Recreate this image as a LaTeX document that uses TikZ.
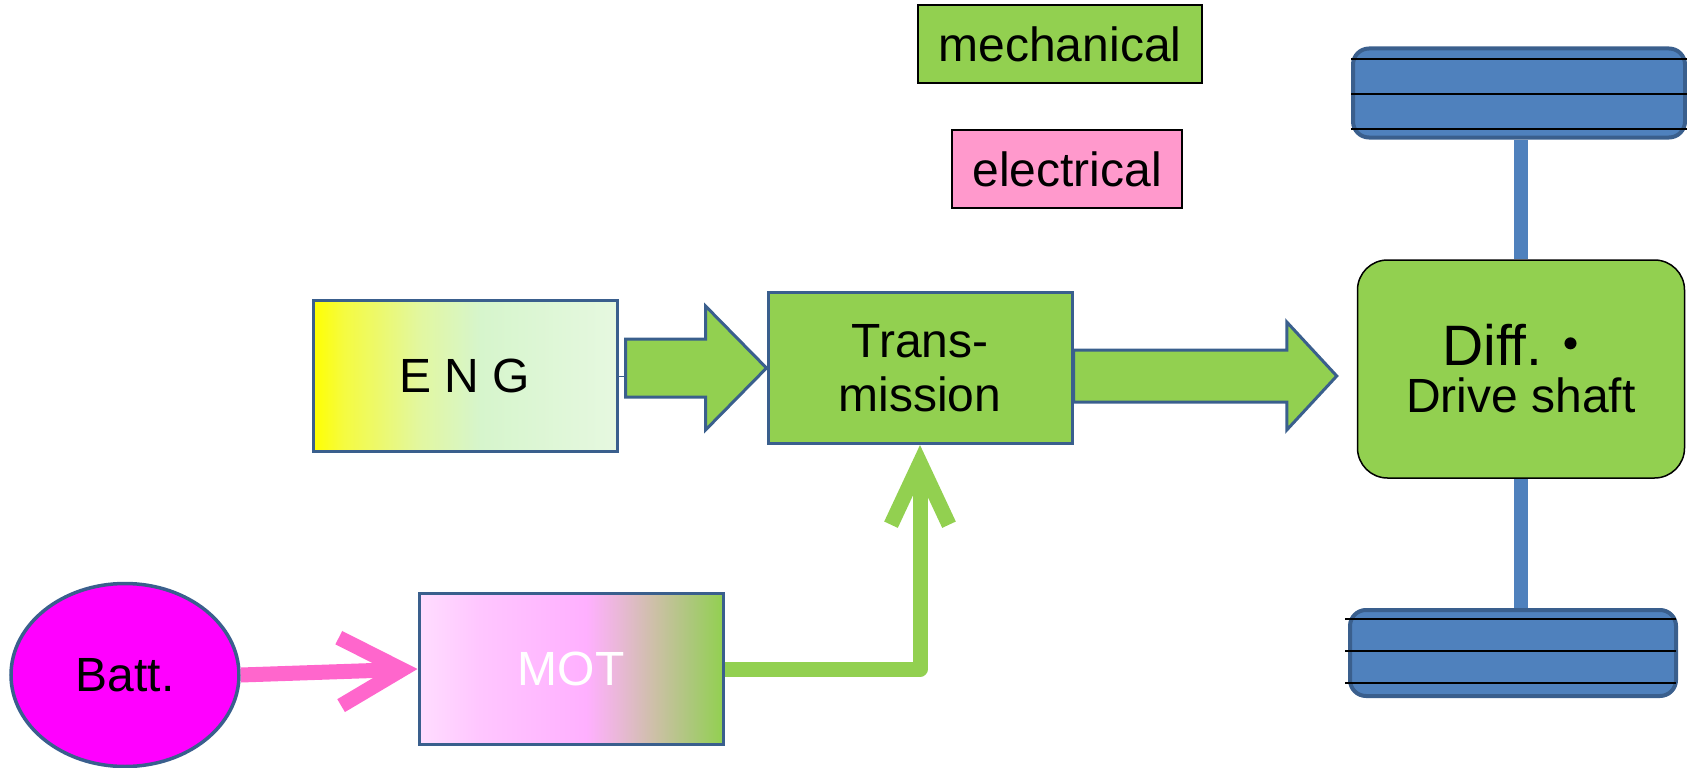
\documentclass[tikz,border=0pt]{standalone}
\usepackage{fontspec}
\setmainfont{Liberation Sans}
\newfontfamily\cjk{Noto Sans CJK JP}
\usetikzlibrary{shapes.geometric,arrows.meta,calc}

\definecolor{mechgreen}{HTML}{92D050}
\definecolor{elecpink}{HTML}{FF99CC}
\definecolor{flowpink}{HTML}{FF66CC}
\definecolor{edgeblue}{HTML}{3A5F8D}
\definecolor{wheelblue}{HTML}{4F81BD}
\definecolor{battmag}{HTML}{FF00FF}
\definecolor{engA}{HTML}{F5FB40}
\definecolor{engB}{HTML}{E2F7A0}
\definecolor{engC}{HTML}{D6F5CC}
\definecolor{engD}{HTML}{E6F8E0}
\definecolor{motA}{HTML}{FFDDFF}
\definecolor{motB}{HTML}{FFC6FF}
\definecolor{motC}{HTML}{FFB0FF}
\definecolor{motD}{HTML}{EBB7DA}
\definecolor{motE}{HTML}{CBC0A4}
\definecolor{motF}{HTML}{AAC878}

\pgfdeclarehorizontalshading{engshade}{100bp}{color(0bp)=(yellow); color(25bp)=(yellow); color(30bp)=(engA); color(42.5bp)=(engB); color(52.5bp)=(engC); color(75bp)=(engD); color(100bp)=(engD)}
\pgfdeclarehorizontalshading{motshade}{100bp}{color(0bp)=(motA); color(25bp)=(motA); color(35bp)=(motB); color(52.5bp)=(motC); color(57.5bp)=(motD); color(64bp)=(motE); color(70bp)=(motF); color(75bp)=(mechgreen); color(100bp)=(mechgreen)}

\tikzset{
  unit/.style={draw=edgeblue, line width=3pt, minimum width=304pt, minimum height=151pt, inner sep=0pt},
  legendbox/.style={draw=black, line width=1.5pt, minimum height=78pt, inner sep=0pt},
  fatarrow/.style={draw=edgeblue, fill=mechgreen, line width=3pt},
  wheel/.style={draw=edgeblue, fill=wheelblue, line width=4pt, rounded corners=16pt, minimum width=332pt, minimum height=89pt, inner sep=0pt},
  tread/.style={black, line width=1.5pt},
  axle/.style={wheelblue, line width=14pt},
  elecflow/.style={flowpink, line width=15pt, -{Straight Barb[length=62pt,width=68pt]}},
  mechflow/.style={mechgreen, line width=15pt, line join=round, -{Straight Barb[length=62pt,width=58pt]}},
}

\begin{document}
\begin{tikzpicture}[x=1pt,y=1pt,yscale=-1,font=\fontsize{48}{54}\selectfont]
\useasboundingbox (0,0) rectangle (1687,768);

\node[legendbox, fill=mechgreen, minimum width=284pt] (mech) at (1060,44) {mechanical};
\node[legendbox, fill=elecpink, minimum width=230pt] (elec) at (1067,169) {electrical};

\node[unit, shade, shading=engshade] (eng) at (465,376) {E N G};
\node[unit, fill=mechgreen, align=center] (trans) at (920,368) {Trans-\\mission};
\node[unit, shade, shading=motshade, text=white] (mot) at (571,669) {MOT};
\node[ellipse, draw=edgeblue, line width=3.5pt, fill=battmag, minimum width=228pt, minimum height=183pt, inner sep=0pt] (batt) at (125,675) {Batt.};

\node[draw=black, line width=1.5pt, fill=mechgreen, rounded corners=30pt, minimum width=327pt, minimum height=218pt, align=center, font=\fontsize{48}{47}\selectfont] (diff) at (1521,369) {{\fontsize{57}{47}\selectfont Diff.{\cjk ・}}\\Drive shaft};
\node[wheel] (wtop) at (1519,93) {};
\node[wheel, minimum width=326pt, minimum height=86pt] (wbot) at (1513,653) {};

\foreach \dy in {12.5,47.5,82.5} \draw[tread] ($(wtop.north west)+(0,\dy)$) -- ++(336,0);
\foreach \dy in {11,43,75} \draw[tread] ($(wbot.north west)+(-3,\dy)$) -- ++(331,0);
\draw[axle] (diff.north) -- (diff.north |- wtop.south);
\draw[axle] (diff.south) -- (diff.south |- wbot.north);

\draw[edgeblue, line width=1pt] (eng.east) -- ++(7,0);
\draw[fatarrow] ($(eng.east |- trans.west)+(7,-29)$) -- ($(trans.west)+(-61,-29)$) -- ($(trans.west)+(-61,-62)$) -- (trans.west) -- ($(trans.west)+(-61,62)$) -- ($(trans.west)+(-61,29)$) -- ($(eng.east |- trans.west)+(7,29)$) -- cycle;

\coordinate (tip) at ($(diff.west)+(-20,7)$);
\draw[fatarrow] ($(trans.east |- tip)+(0,-26)$) -- ($(tip)+(-50,-26)$) -- ($(tip)+(-50,-54)$) -- (tip) -- ($(tip)+(-50,54)$) -- ($(tip)+(-50,26)$) -- ($(trans.east |- tip)+(0,26)$) -- cycle;

\draw[elecflow] (batt.east) -- (mot.west);
\draw[mechflow] (mot.east) -| (trans.south);
\end{tikzpicture}
\end{document}
